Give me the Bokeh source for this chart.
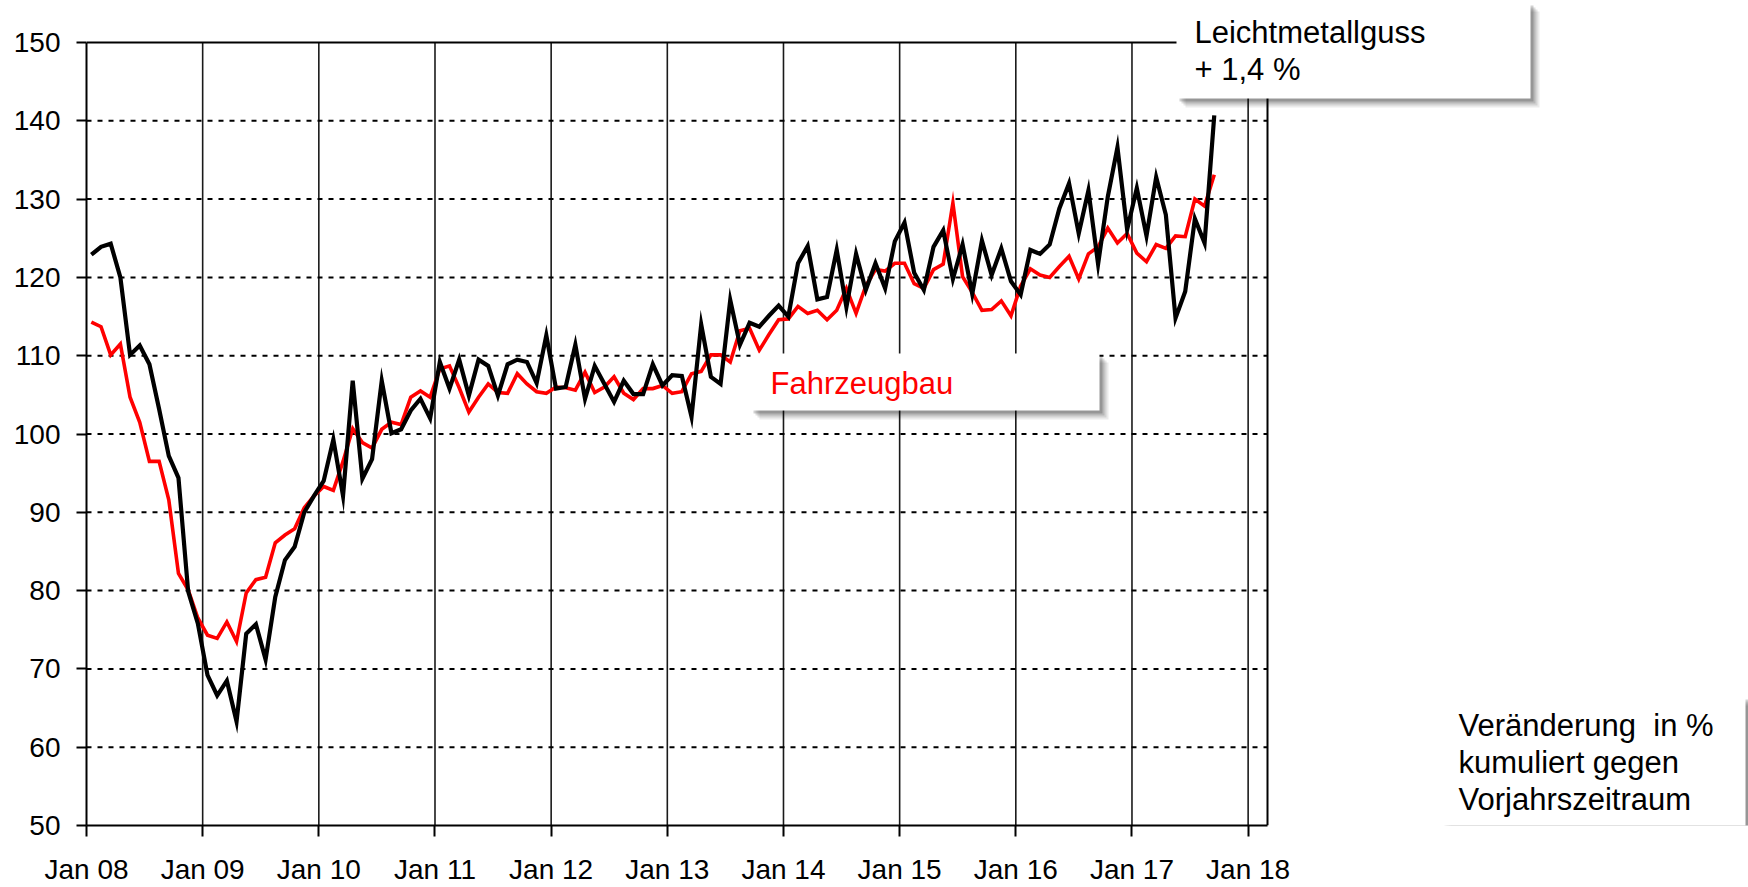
import numpy as np
from bokeh.plotting import figure
from bokeh.models import Range1d, FixedTicker, BoxAnnotation, Label
from bokeh.embed import file_html
from bokeh.resources import INLINE

# ---------------- data ----------------
tick_labels = ["Jan 08", "Jan 09", "Jan 10", "Jan 11", "Jan 12", "Jan 13",
               "Jan 14", "Jan 15", "Jan 16", "Jan 17", "Jan 18"]
y_ticks = [50, 60, 70, 80, 90, 100, 110, 120, 130, 140, 150]

# Fahrzeugbau (red), monthly Jan 2008 - Sep 2017
fahrzeugbau = [
    114.3, 113.7, 110.1, 111.5, 104.7, 101.5, 96.5, 96.5, 91.6, 82.2, 80.1, 76.5,
    74.3, 73.9, 76.0, 73.5, 79.7, 81.4, 81.7, 86.1, 87.1, 87.9, 90.6, 92.1,
    93.3, 92.8, 96.5, 100.7, 98.9, 98.2, 100.6, 101.5, 101.2, 104.7, 105.5, 104.7,
    108.3, 108.7, 105.9, 102.8, 104.7, 106.4, 105.3, 105.2, 107.7, 106.4, 105.4, 105.2,
    106.0, 105.9, 105.6, 107.9, 105.3, 106.0, 107.3, 105.2, 104.4, 105.8, 105.8, 106.2,
    105.2, 105.4, 107.7, 108.0, 110.1, 110.1, 109.2, 113.2, 113.5, 110.7, 112.7, 114.6,
    114.7, 116.3, 115.4, 115.8, 114.6, 115.8, 118.6, 115.4, 118.9, 121.0, 120.8, 121.8,
    121.8, 119.2, 118.6, 121.0, 121.7, 129.5, 120.1, 118.1, 115.8, 115.9, 117.0, 115.1,
    118.9, 121.1, 120.3, 120.0, 121.4, 122.7, 119.8, 123.0, 123.9, 126.3, 124.4, 125.6,
    123.1, 122.0, 124.2, 123.7, 125.3, 125.2, 130.0, 129.1, 133.1,
]

# Leichtmetallguss (black)
leichtmetallguss = [
    122.9, 123.9, 124.3, 120.0, 110.1, 111.3, 108.9, 103.2, 97.2, 94.4, 79.9, 75.8,
    69.2, 66.6, 68.5, 63.3, 74.5, 75.7, 71.2, 79.2, 83.9, 85.6, 90.0, 92.1,
    94.0, 99.3, 92.1, 106.8, 94.3, 96.8, 106.8, 100.1, 100.6, 103.0, 104.5, 102.0,
    109.2, 105.8, 109.5, 104.9, 109.5, 108.7, 104.9, 108.9, 109.5, 109.2, 106.5, 112.6,
    105.8, 106.0, 111.4, 104.5, 108.7, 106.4, 104.1, 106.8, 105.1, 105.1, 108.9, 106.2,
    107.5, 107.4, 102.2, 114.0, 107.3, 106.4, 117.1, 111.4, 114.2, 113.7, 115.1, 116.4,
    115.0, 121.8, 124.0, 117.2, 117.5, 123.5, 116.2, 123.0, 118.4, 121.8, 118.6, 124.6,
    127.0, 120.6, 118.4, 123.9, 126.0, 119.8, 124.2, 117.9, 124.7, 120.3, 123.7, 119.5,
    117.8, 123.5, 123.0, 124.2, 128.8, 132.0, 125.6, 131.1, 121.7, 130.3, 136.6, 126.1,
    131.4, 125.3, 132.8, 128.0, 114.8, 118.2, 127.5, 124.4, 140.7,
]

months = np.arange(len(fahrzeugbau)) + 0.5   # mid-month positions
year_ticks = [12 * i for i in range(len(tick_labels))]
X_END = 122          # right edge of the plot box (in months)
Y_LO, Y_HI = 50, 150

# ---------------- geometry (page pixels) ----------------
W, H = 1748, 887
PL, PR, PT, PB = 86, 1267, 42, 825       # plot box edges
MW = (PR - PL) / X_END                    # px per month
VH = (PB - PT) / (Y_HI - Y_LO)            # px per unit

# frame spans to right and top canvas edges so the annotation boxes are not clipped
x_max = X_END + (W - PR) / MW
y_max = Y_HI + PT / VH

p = figure(width=W, height=H, output_backend="svg", toolbar_location=None,
           x_range=Range1d(0, x_max), y_range=Range1d(Y_LO, y_max),
           min_border_left=PL, min_border_right=0,
           min_border_top=0, min_border_bottom=H - PB)
p.outline_line_color = None
p.background_fill_color = "white"
p.border_fill_color = "white"
p.grid.visible = False

FONT = "Liberation Sans"

# axes
p.xaxis.ticker = FixedTicker(ticks=year_ticks)
p.xaxis.major_label_overrides = {t: l for t, l in zip(year_ticks, tick_labels)}
p.xaxis.bounds = (0, X_END)
p.xaxis.major_tick_out = 11
p.xaxis.major_label_standoff = 17
p.yaxis.ticker = FixedTicker(ticks=y_ticks)
p.yaxis.bounds = (Y_LO, Y_HI)
p.yaxis.major_tick_out = 10
p.yaxis.major_label_standoff = 16
for ax in (p.xaxis, p.yaxis):
    ax.major_tick_in = 0
    ax.minor_tick_line_color = None
    ax.axis_line_color = "black"
    ax.axis_line_width = 2
    ax.major_tick_line_color = "black"
    ax.major_tick_line_width = 2
    ax.major_label_text_font = FONT
    ax.major_label_text_font_size = "28px"
    ax.major_label_text_color = "black"

# grid lines and plot-box border (drawn from the tick arrays)
inner_y = y_ticks[1:-1]
p.segment(x0=year_ticks[1:], y0=[Y_LO] * (len(year_ticks) - 1),
          x1=year_ticks[1:], y1=[Y_HI] * (len(year_ticks) - 1),
          line_color="#1a1a1a", line_width=1.6)
p.segment(x0=[0] * len(inner_y), y0=inner_y, x1=[X_END] * len(inner_y), y1=inner_y,
          line_color="black", line_width=2, line_dash="5 6")
p.segment(x0=[0, X_END], y0=[Y_HI, Y_LO], x1=[X_END, X_END], y1=[Y_HI, Y_HI],
          line_color="black", line_width=2)

# series
p.line(months, fahrzeugbau, line_color="#FF0000", line_width=3.6, line_join="miter")
p.line(months, leichtmetallguss, line_color="black", line_width=4.2, line_join="miter")


# ---------------- annotation boxes ----------------
def mx(X):
    return (X - PL) / MW


def vy(Y):
    return Y_HI - (Y - PT) / VH


def add_box(x0, y0, x1, y1):
    for k, a in [(9, 0.08), (7, 0.10), (5, 0.13), (3, 0.18)]:
        p.add_layout(BoxAnnotation(left=mx(x0 + k), right=mx(x1 + k),
                                   top=vy(y0 + k), bottom=vy(y1 + k),
                                   fill_color="black", fill_alpha=a, line_color=None))
    p.add_layout(BoxAnnotation(left=mx(x0), right=mx(x1), top=vy(y0), bottom=vy(y1),
                               fill_color="white", fill_alpha=1.0, line_color=None))


TEXT_SHIFT = -10


def add_text(X, Y, txt, color="black"):
    p.add_layout(Label(x=mx(X), y=vy(Y + TEXT_SHIFT), text=txt, text_font=FONT,
                       text_font_size="31px", text_color=color,
                       text_align="left", text_baseline="alphabetic"))


add_box(1176, 2, 1530, 98)
add_text(1194, 42, "Leichtmetallguss")
add_text(1194, 79, "+ 1,4 %")

add_box(750, 353, 1099, 410)
add_text(770, 393, "Fahrzeugbau", "#FF0000")

add_box(1441, 696, 1745, 829)
add_text(1458, 735, "Veränderung\u00a0 in %")
add_text(1458, 772, "kumuliert gegen")
add_text(1458, 809, "Vorjahrszeitraum")

open("out.html", "w").write(file_html(p, INLINE))
